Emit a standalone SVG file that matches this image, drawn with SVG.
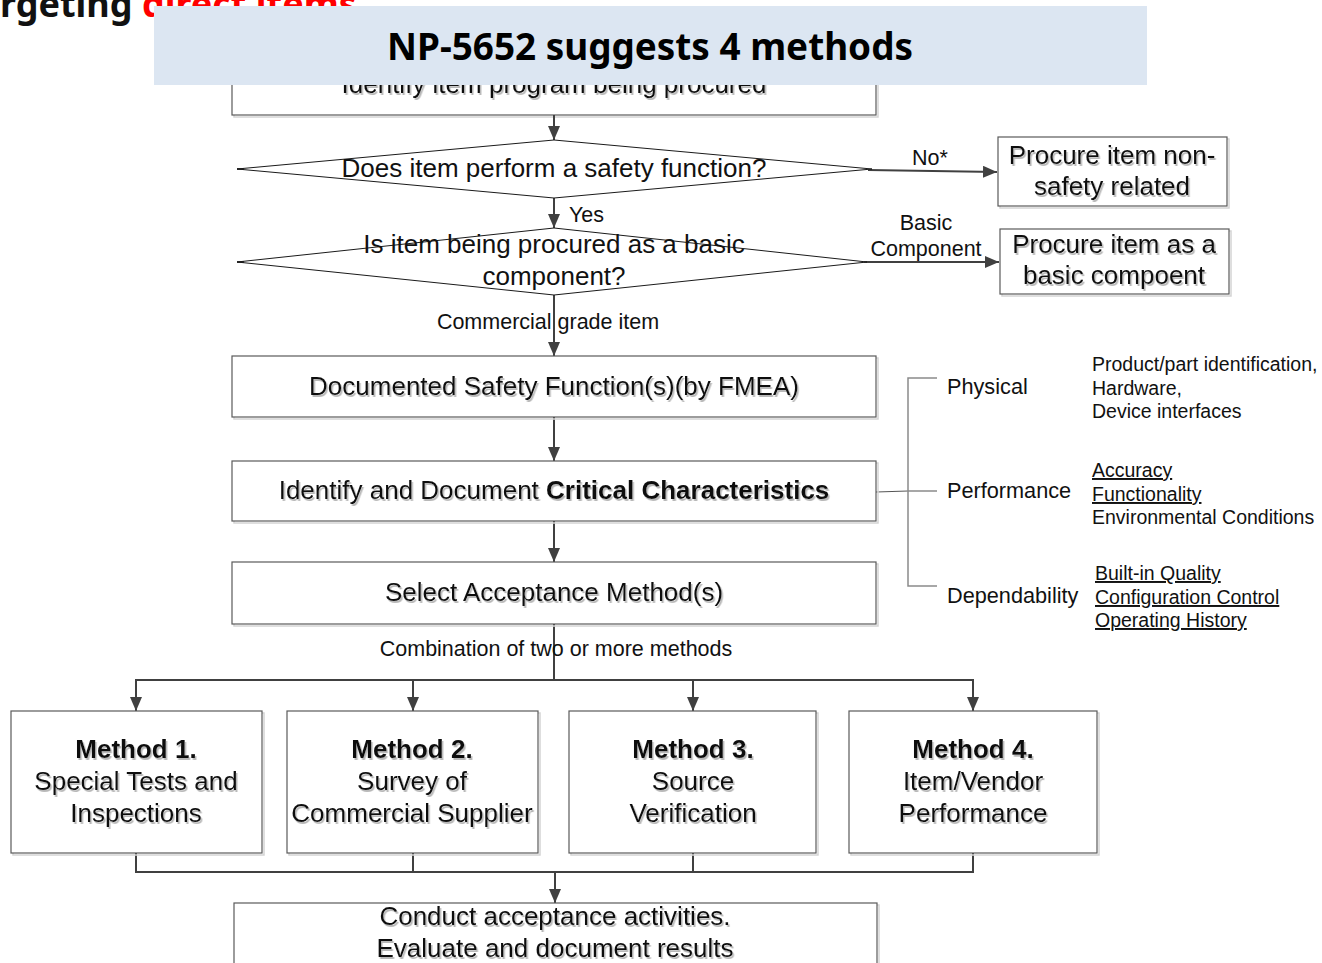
<svg xmlns="http://www.w3.org/2000/svg" width="1322" height="963" viewBox="0 0 1322 963">
  <style>
    .box { fill: #ffffff; stroke: #5a5a5a; stroke-width: 1.2; }
    .boxsh { fill: none; stroke: #d4d4d4; stroke-width: 1.5; }
    .dia { fill: #ffffff; stroke: #1a1a1a; stroke-width: 1; }
    .t { font-family: "Liberation Sans", Arial, sans-serif; font-size: 26px; fill: #111; text-anchor: middle; }
    .b { font-weight: bold; }
    .lbl { font-family: "Liberation Sans", Arial, sans-serif; font-size: 21.5px; fill: #111; }
    .mid { text-anchor: middle; }
    .side { font-family: "Liberation Sans", Arial, sans-serif; font-size: 21.7px; fill: #111; }
    .note { font-family: "Liberation Sans", Arial, sans-serif; font-size: 19.5px; fill: #111; }
    .u { text-decoration: underline; }
    .conn { fill: none; stroke: #404040; stroke-width: 2; }
    .thin { fill: none; stroke: #555; stroke-width: 1.2; }
    .brk { fill: none; stroke: #8a8a8a; stroke-width: 1.5; }
  </style>
  <defs>
    <marker id="arrow" viewBox="0 0 14 12" refX="14" refY="6" markerWidth="14" markerHeight="12" markerUnits="userSpaceOnUse" orient="auto">
      <path d="M0,0 L14,6 L0,12 z" fill="#404040"/>
    </marker>
    <filter id="tsh" x="-5%" y="-20%" width="110%" height="150%">
      <feDropShadow dx="1.5" dy="2" stdDeviation="0.6" flood-color="#9a9a9a" flood-opacity="0.7"/>
    </filter>
  </defs>

  <rect width="1322" height="963" fill="#ffffff"/>

  <!-- page heading, partly behind the banner -->
  <g id="heading">
    <text x="0" y="17" font-family="'Noto Sans', 'Open Sans', sans-serif" font-weight="bold" font-size="36" fill="#111">rgeting <tspan fill="#ff0000">direct items</tspan></text>
  </g>

  <!-- first process box (top hidden under the banner) -->
  <g id="n-identify-item">
    <rect class="boxsh" x="234" y="42" width="644" height="75"/>
    <rect class="box" x="232" y="40" width="644" height="75"/>
    <text class="t" x="554" y="93" filter="url(#tsh)">Identify item program being procured</text>
  </g>

  <!-- banner -->
  <g id="banner">
    <rect x="154" y="6" width="993" height="79" fill="#dce6f2"/>
    <text x="650" y="60" text-anchor="middle" font-family="'Noto Sans', 'Open Sans', sans-serif" font-weight="bold" font-size="37" fill="#000" textLength="526" lengthAdjust="spacingAndGlyphs">NP-5652 suggests 4 methods</text>
  </g>

  <!-- connectors -->
  <g id="connectors">
    <line class="conn" x1="554" y1="115" x2="554" y2="140" marker-end="url(#arrow)"/>
    <line class="conn" x1="868" y1="170" x2="997" y2="172" marker-end="url(#arrow)"/>
    <line class="conn" x1="554" y1="198" x2="554" y2="228" marker-end="url(#arrow)"/>
    <line class="conn" x1="864" y1="262" x2="999" y2="262" marker-end="url(#arrow)"/>
    <line class="conn" x1="554" y1="295" x2="554" y2="356" marker-end="url(#arrow)"/>
    <line class="conn" x1="554" y1="417" x2="554" y2="461" marker-end="url(#arrow)"/>
    <line class="conn" x1="554" y1="521" x2="554" y2="562" marker-end="url(#arrow)"/>
    <line class="conn" x1="554" y1="624" x2="554" y2="680"/>
    <line class="conn" x1="135" y1="680" x2="974" y2="680"/>
    <line class="conn" x1="136" y1="680" x2="136" y2="711" marker-end="url(#arrow)"/>
    <line class="conn" x1="413" y1="680" x2="413" y2="711" marker-end="url(#arrow)"/>
    <line class="conn" x1="693" y1="680" x2="693" y2="711" marker-end="url(#arrow)"/>
    <line class="conn" x1="973" y1="680" x2="973" y2="711" marker-end="url(#arrow)"/>
    <path class="conn" d="M136,853 V872 H973 V853 M413,853 V872 M693,853 V872"/>
    <line class="conn" x1="555" y1="872" x2="555" y2="903" marker-end="url(#arrow)"/>
    <!-- link to the characteristics bracket -->
    <line class="thin" x1="876" y1="492" x2="908" y2="491"/>
    <path class="brk" d="M937,378 H908 V586 H937 M908,491 H937"/>
  </g>

  <!-- connector labels -->
  <g id="labels">
    <text class="lbl mid" x="930" y="165">No*</text>
    <text class="lbl" x="569" y="222">Yes</text>
    <text class="lbl mid" x="926" y="230">Basic</text>
    <text class="lbl mid" x="926" y="256">Component</text>
    <text class="lbl mid" x="548" y="329">Commercial grade item</text>
    <text class="lbl mid" x="556" y="656">Combination of two or more methods</text>
  </g>

  <g id="d-safety">
    <polygon class="dia" points="554,140 872,169 554,198 237,169"/>
    <line x1="237" y1="169" x2="244" y2="169" stroke="#1a1a1a" stroke-width="1.5"/>
    <text class="t" x="554" y="177">Does item perform a safety function?</text>
  </g>

  <g id="d-basic">
    <polygon class="dia" points="554,228 867,262 554,295 237,262"/>
    <line x1="237" y1="262" x2="244" y2="262" stroke="#1a1a1a" stroke-width="1.5"/>
    <text class="t" x="554" y="253">Is item being procured as a basic</text>
    <text class="t" x="554" y="285">component?</text>
  </g>

  <g id="n-nonsafety">
    <rect class="boxsh" x="1000" y="139" width="229" height="69"/>
    <rect class="box" x="998" y="137" width="229" height="69"/>
    <text class="t" x="1112" y="164" filter="url(#tsh)">Procure item non-</text>
    <text class="t" x="1112" y="195" filter="url(#tsh)">safety related</text>
  </g>

  <g id="n-basic">
    <rect class="boxsh" x="1002" y="231" width="229" height="65"/>
    <rect class="box" x="1000" y="229" width="229" height="65"/>
    <text class="t" x="1114" y="253" filter="url(#tsh)">Procure item as a</text>
    <text class="t" x="1114" y="284" filter="url(#tsh)">basic compoent</text>
  </g>

  <g id="n-safety-function">
    <rect class="boxsh" x="234" y="358" width="644" height="61"/>
    <rect class="box" x="232" y="356" width="644" height="61"/>
    <text class="t" x="554" y="395" filter="url(#tsh)">Documented Safety Function(s)(by FMEA)</text>
  </g>

  <g id="n-critical">
    <rect class="boxsh" x="234" y="463" width="644" height="60"/>
    <rect class="box" x="232" y="461" width="644" height="60"/>
    <text class="t" x="554" y="499" filter="url(#tsh)">Identify and Document <tspan class="b">Critical Characteristics</tspan></text>
  </g>

  <g id="n-select">
    <rect class="boxsh" x="234" y="564" width="644" height="62"/>
    <rect class="box" x="232" y="562" width="644" height="62"/>
    <text class="t" x="554" y="601" filter="url(#tsh)">Select Acceptance Method(s)</text>
  </g>

  <!-- characteristic categories -->
  <g id="c-physical">
    <text class="side" x="947" y="394">Physical</text>
    <text class="note" x="1092" y="371">Product/part identification,</text>
    <text class="note" x="1092" y="395">Hardware,</text>
    <text class="note" x="1092" y="418">Device interfaces</text>
  </g>
  <g id="c-performance">
    <text class="side" x="947" y="498">Performance</text>
    <text class="note u" x="1092" y="477">Accuracy</text>
    <text class="note u" x="1092" y="501">Functionality</text>
    <text class="note" x="1092" y="524">Environmental Conditions</text>
  </g>
  <g id="c-dependability">
    <text class="side" x="947" y="603">Dependability</text>
    <text class="note u" x="1095" y="580">Built-in Quality</text>
    <text class="note u" x="1095" y="604">Configuration Control</text>
    <text class="note u" x="1095" y="627">Operating History</text>
  </g>

  <!-- acceptance methods -->
  <g id="m1">
    <rect class="boxsh" x="13" y="713" width="251" height="142"/>
    <rect class="box" x="11" y="711" width="251" height="142"/>
    <text class="t b" x="136" y="758" filter="url(#tsh)">Method 1.</text>
    <text class="t" x="136" y="790" filter="url(#tsh)">Special Tests and</text>
    <text class="t" x="136" y="822" filter="url(#tsh)">Inspections</text>
  </g>
  <g id="m2">
    <rect class="boxsh" x="289" y="713" width="251" height="142"/>
    <rect class="box" x="287" y="711" width="251" height="142"/>
    <text class="t b" x="412" y="758" filter="url(#tsh)">Method 2.</text>
    <text class="t" x="412" y="790" filter="url(#tsh)">Survey of</text>
    <text class="t" x="412" y="822" filter="url(#tsh)">Commercial Supplier</text>
  </g>
  <g id="m3">
    <rect class="boxsh" x="571" y="713" width="247" height="142"/>
    <rect class="box" x="569" y="711" width="247" height="142"/>
    <text class="t b" x="693" y="758" filter="url(#tsh)">Method 3.</text>
    <text class="t" x="693" y="790" filter="url(#tsh)">Source</text>
    <text class="t" x="693" y="822" filter="url(#tsh)">Verification</text>
  </g>
  <g id="m4">
    <rect class="boxsh" x="851" y="713" width="248" height="142"/>
    <rect class="box" x="849" y="711" width="248" height="142"/>
    <text class="t b" x="973" y="758" filter="url(#tsh)">Method 4.</text>
    <text class="t" x="973" y="790" filter="url(#tsh)">Item/Vendor</text>
    <text class="t" x="973" y="822" filter="url(#tsh)">Performance</text>
  </g>

  <g id="n-conduct">
    <rect class="boxsh" x="236" y="905" width="643" height="80"/>
    <rect class="box" x="234" y="903" width="643" height="80"/>
    <text class="t" x="555" y="925" filter="url(#tsh)">Conduct acceptance activities.</text>
    <text class="t" x="555" y="957" filter="url(#tsh)">Evaluate and document results</text>
  </g>
</svg>
